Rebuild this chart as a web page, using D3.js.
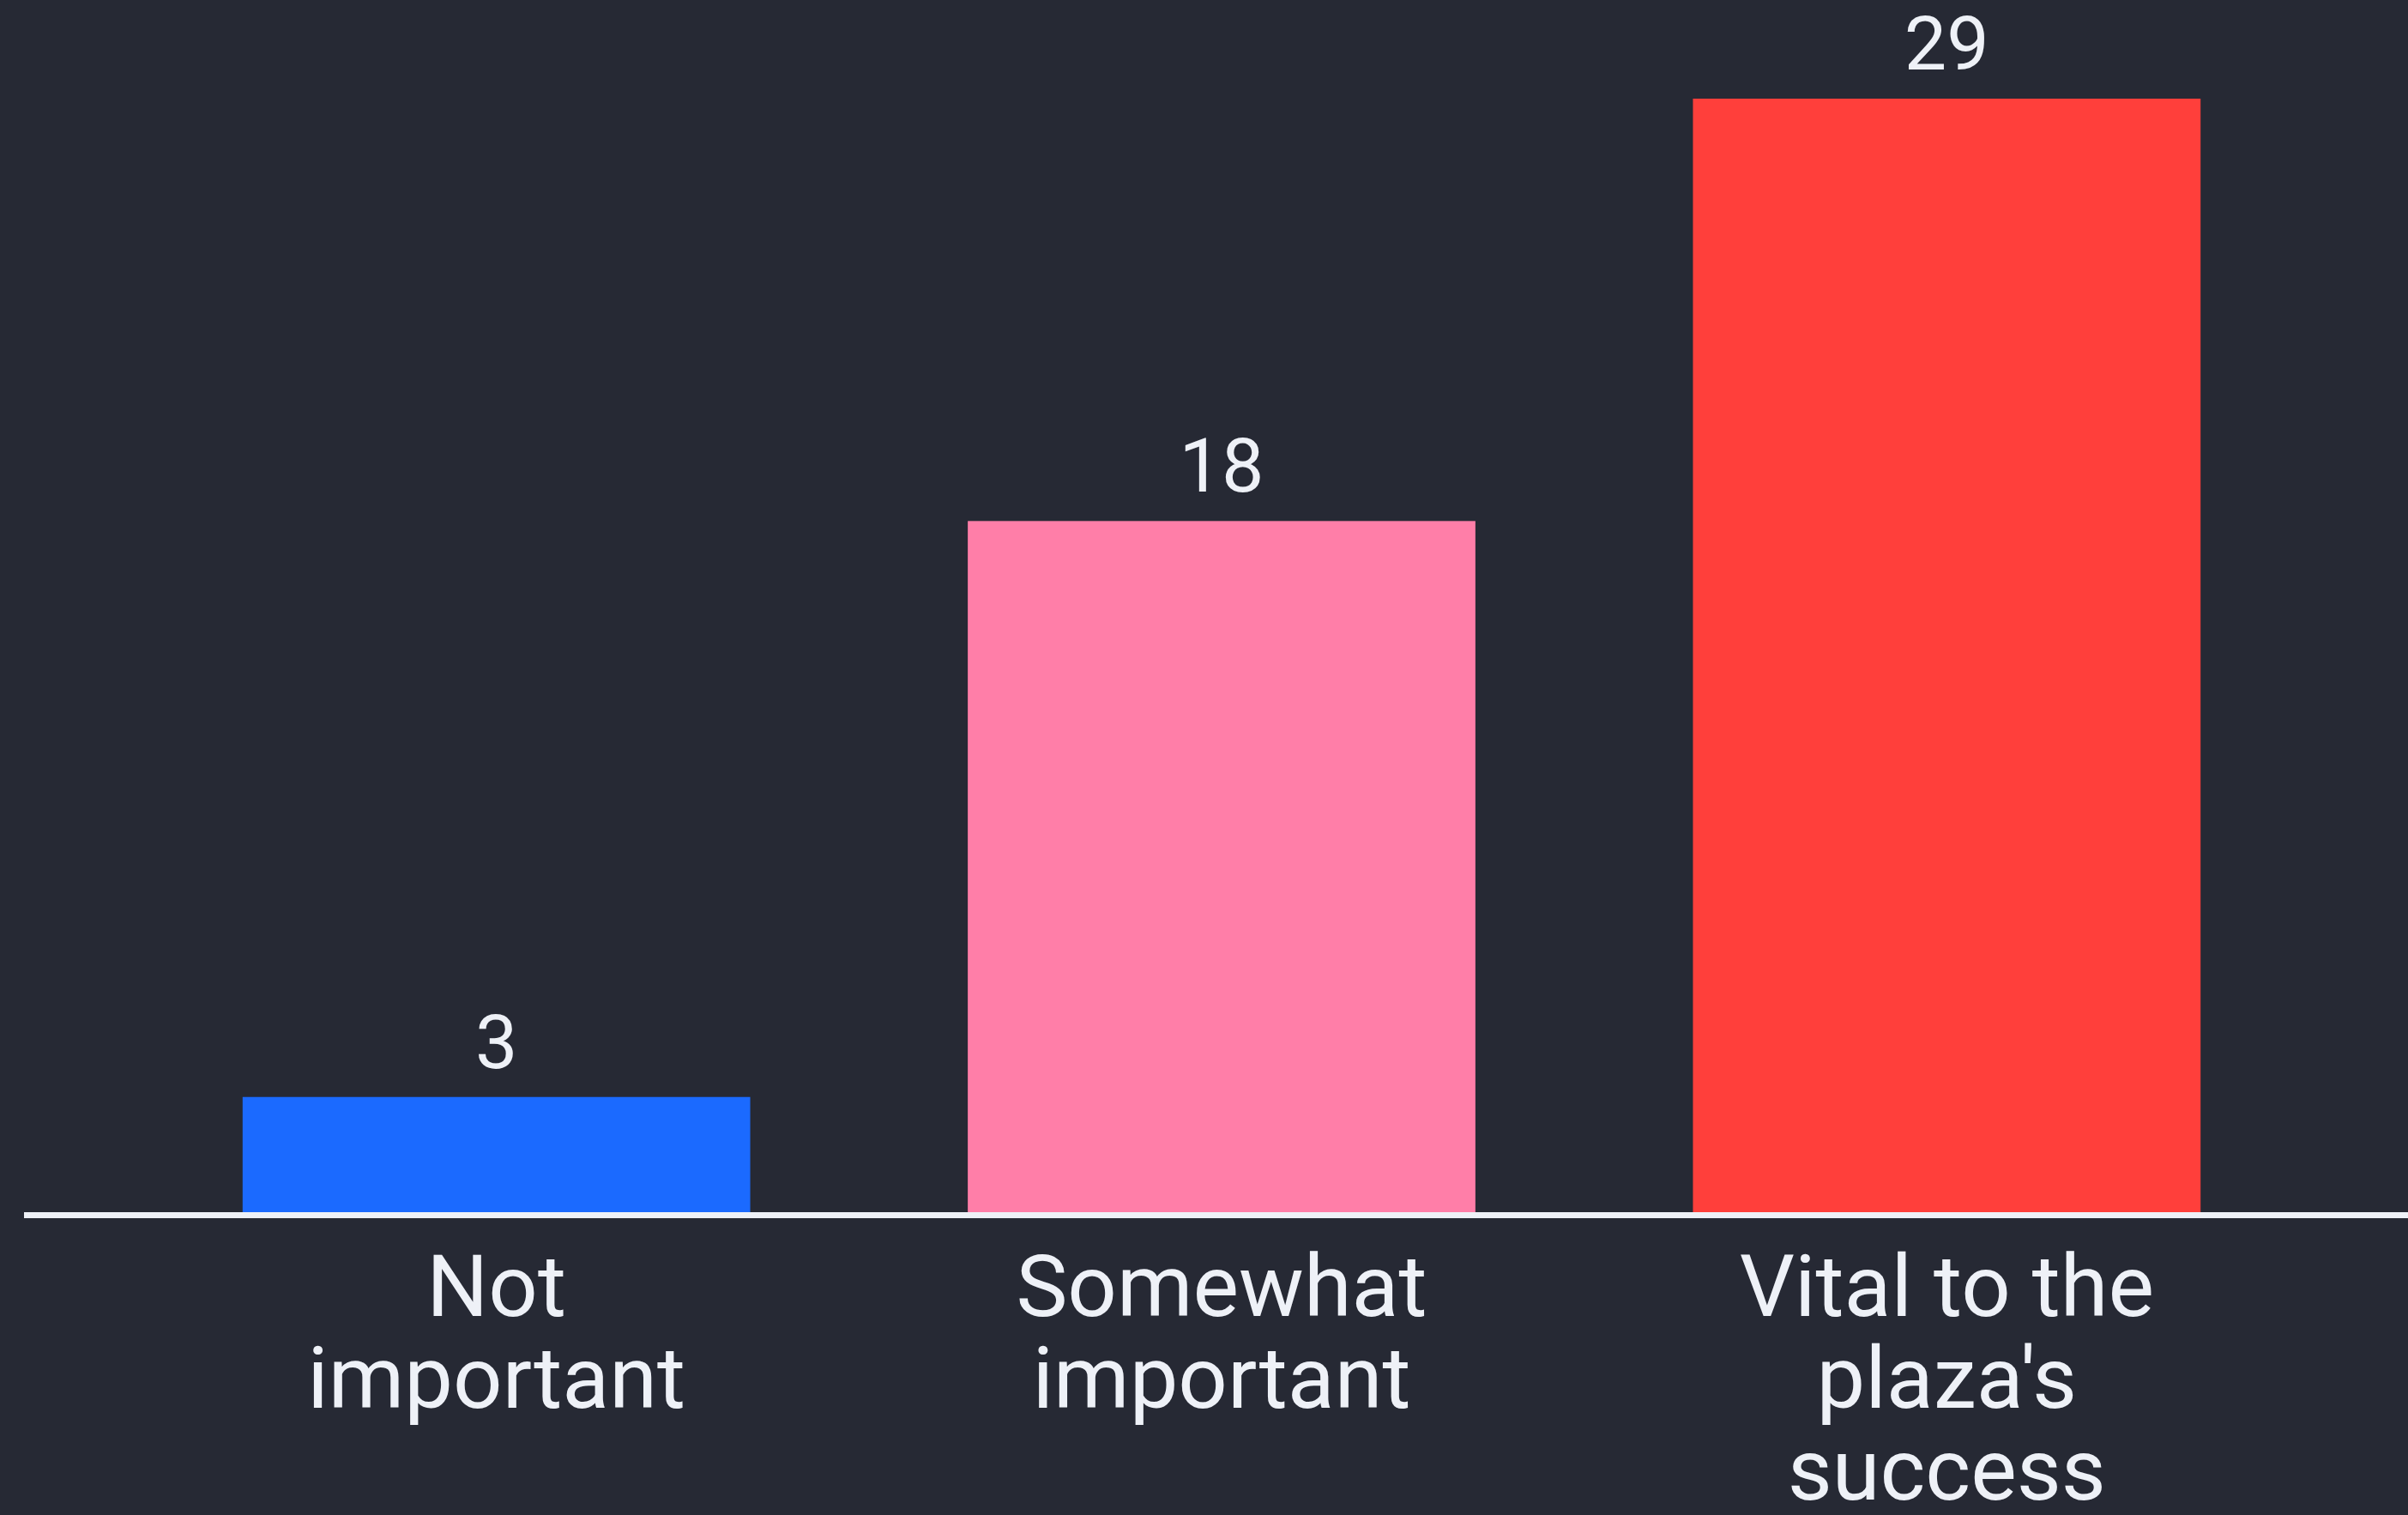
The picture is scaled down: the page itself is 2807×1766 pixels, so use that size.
<!DOCTYPE html>
<html>
<head>
<meta charset="utf-8">
<script src="https://cdn.jsdelivr.net/npm/d3@7"></script>
<style>
  html, body { margin: 0; padding: 0; background: #262934; }
  svg { display: block; }
</style>
</head>
<body>
<svg id="chart" width="2807" height="1766"></svg>
<script>
const categories = [
  ["Not", "important"],
  ["Somewhat", "important"],
  ["Vital to the", "plaza's", "success"]
];
const values = [3, 18, 29];
const barColors = ["#1b6aff", "#ff7ea8", "#ff3f3b"];

const W = 2807, H = 1766;
const svg = d3.select("#chart");
svg.append("rect").attr("width", W).attr("height", H).attr("fill", "#262934");

const x = d3.scaleBand()
  .domain(d3.range(values.length))
  .range([156, 2692])
  .paddingInner(0.3)
  .paddingOuter(0.15);

const y = d3.scaleLinear().domain([0, 29]).range([1413, 115]);

svg.selectAll("rect.bar")
  .data(values)
  .enter().append("rect")
  .attr("class", "bar")
  .attr("x", (d, i) => x(i))
  .attr("width", x.bandwidth())
  .attr("y", d => y(d))
  .attr("height", d => y(0) - y(d))
  .attr("fill", (d, i) => barColors[i]);

// baseline
svg.append("line")
  .attr("x1", 28).attr("x2", W)
  .attr("y1", y(0) + 3.5).attr("y2", y(0) + 3.5)
  .attr("stroke", "#eef1f7").attr("stroke-width", 7);

const font = "Roboto, 'Open Sans', sans-serif";

// value labels
svg.selectAll("text.val")
  .data(values)
  .enter().append("text")
  .attr("class", "val")
  .attr("x", (d, i) => x(i) + x.bandwidth() / 2)
  .attr("y", d => y(d) - 34)
  .attr("text-anchor", "middle")
  .attr("font-family", font)
  .attr("font-size", 88)
  .attr("fill", "#eef1f7")
  .text(d => d);

// category labels
const cat = svg.selectAll("text.cat")
  .data(categories)
  .enter().append("text")
  .attr("class", "cat")
  .attr("text-anchor", "middle")
  .attr("font-family", font)
  .attr("font-size", 101)
  .attr("fill", "#eef1f7");

cat.selectAll("tspan")
  .data((d, i) => d.map(t => ({ t, i })))
  .enter().append("tspan")
  .attr("x", d => x(d.i) + x.bandwidth() / 2)
  .attr("y", (d, j) => 1534 + j * 107)
  .text(d => d.t);
</script>
</body>
</html>
